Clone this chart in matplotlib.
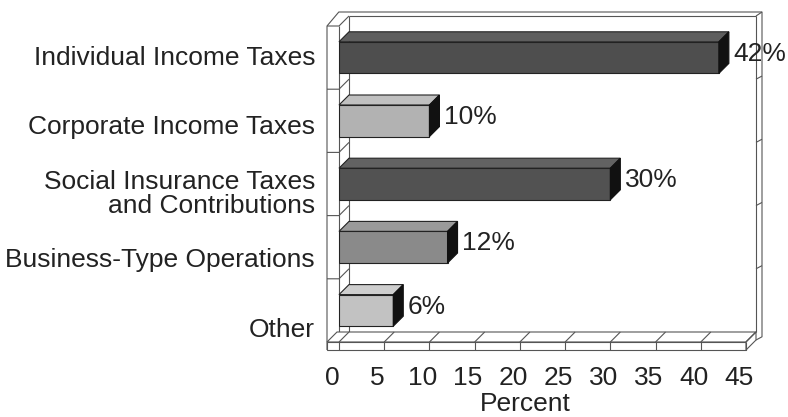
import matplotlib
matplotlib.use("Agg")
import matplotlib.pyplot as plt
from matplotlib.patches import Polygon

# ---- data ----
categories = ["Individual Income Taxes", "Corporate Income Taxes",
              "Social Insurance Taxes\nand Contributions",
              "Business-Type Operations", "Other"]
values = [42, 10, 30, 12, 6]
value_labels = ["42%", "10%", "30%", "12%", "6%"]
xticks = [0, 5, 10, 15, 20, 25, 30, 35, 40, 45]
xlabel = "Percent"

# ---- style / layout ----
front_colors = ["#4e4e4e", "#b2b2b2", "#525252", "#8a8a8a", "#c2c2c2"]
top_colors = ["#5e5e5e", "#c0c0c0", "#626262", "#9a9a9a", "#cecece"]
side_color = "#111111"
label_offsets = [0.0, 0.10, 0.16, 0.20, 0.31]
FONT = "Liberation Sans"
FS = 19

W, H = 788, 417
fig = plt.figure(figsize=(W / 100, H / 100), dpi=100)
fig.patch.set_facecolor("white")
px_x = 407 / 45.0   # pixels per percent
px_y = 63.2         # pixels per category
ax = fig.add_axes([339 / W, (H - 342) / H, 407 / W, 316 / H])
ax.set_xlim(0, 45)
ax.set_ylim(4.5, -0.5)
ax.axis("off")

DX = 10 / px_x
DY = 10 / px_y
WL = 12 / px_x
FT = 8 / px_y
WR = 6 / px_x
TT = 4 / px_y
lc = "#555555"
lw = 0.8

def poly(pts, fc, z, ec=lc, lw_=lw):
    p = Polygon(pts, closed=True, facecolor=fc, edgecolor=ec, linewidth=lw_,
                zorder=z, clip_on=False)
    ax.add_patch(p)

def line(xs, ys, z=1, c=lc, lw_=lw):
    ax.plot(xs, ys, color=c, lw=lw_, zorder=z, clip_on=False,
            solid_capstyle="butt")

n = len(categories)
top = -0.5
bot = n - 0.5

# back wall edges
line([DX, 45 + DX], [top - DY, top - DY], z=1)
line([DX, DX], [top - DY, bot - DY], z=1)
line([45 + DX, 45 + DX], [top - DY, bot - DY], z=1)
# outer frame top / right
line([-WL, -WL, -WL + DX + 0.2, 45 + DX + WR, 45 + DX + WR, 45 + DX],
     [bot + FT, top, top - DY - TT, top - DY - TT, bot - DY + FT * 0.6, bot - DY + FT],
     z=1)
line([45 + DX, 45 + DX + WR], [top - DY, top - DY - TT], z=1)
# left wall front face and top
line([0, 0], [top, bot], z=1)
line([-WL, 0, DX], [top, top, top - DY], z=1)
# left wall separators and right wall ticks
for k in range(1, n):
    b = k - 0.5
    line([-WL, 0, DX], [b, b, b - DY], z=1)
    line([45 + DX, 45 + DX + WR], [b - DY, b - DY - 0.05], z=1)

# floor slab
poly([(-WL, bot), (45, bot), (45 + DX, bot - DY), (-WL + DX, bot - DY)], "white", 2)
poly([(-WL, bot), (45, bot), (45, bot + FT), (-WL, bot + FT)], "white", 2)
poly([(45, bot), (45 + DX, bot - DY), (45 + DX, bot - DY + FT), (45, bot + FT)], "white", 2)
for t in xticks:
    line([t, t], [bot, bot + FT], z=3)
    line([t, t + DX], [bot, bot - DY], z=3)

# bars
hb = 0.25
for i, (v, fc, tc) in enumerate(zip(values, front_colors, top_colors)):
    yt, yb = i - hb, i + hb
    ax.barh(i, v, height=2 * hb, left=0, color=fc, edgecolor="#222222",
            linewidth=0.8, zorder=5)
    poly([(0, yt), (v, yt), (v + DX, yt - DY), (DX, yt - DY)], tc, 4,
         ec="#222222", lw_=0.8)
    poly([(v, yt), (v + DX, yt - DY), (v + DX, yb - DY), (v, yb)], side_color, 6,
         ec="#111111", lw_=0.8)
    ax.text(v + DX + 0.5, i - 0.06, value_labels[i], ha="left", va="center",
            fontsize=FS, family=FONT, color="#222222", zorder=7)

# category labels
for i, name in enumerate(categories):
    ax.text(-24 / px_x, i + label_offsets[i], name, ha="right", va="center",
            multialignment="right", fontsize=FS, family=FONT, color="#222222",
            linespacing=1.0, clip_on=False)

# x tick labels
for t in xticks:
    ax.text(t - 7 / px_x, bot + 36 / px_y, str(t), ha="center", va="center",
            fontsize=FS, family=FONT, color="#222222", clip_on=False)
ax.text(186 / px_x, bot + 62 / px_y, xlabel, ha="center", va="center",
        fontsize=FS, family=FONT, color="#222222", clip_on=False)

fig.savefig("out.png", dpi=100, facecolor="white")
